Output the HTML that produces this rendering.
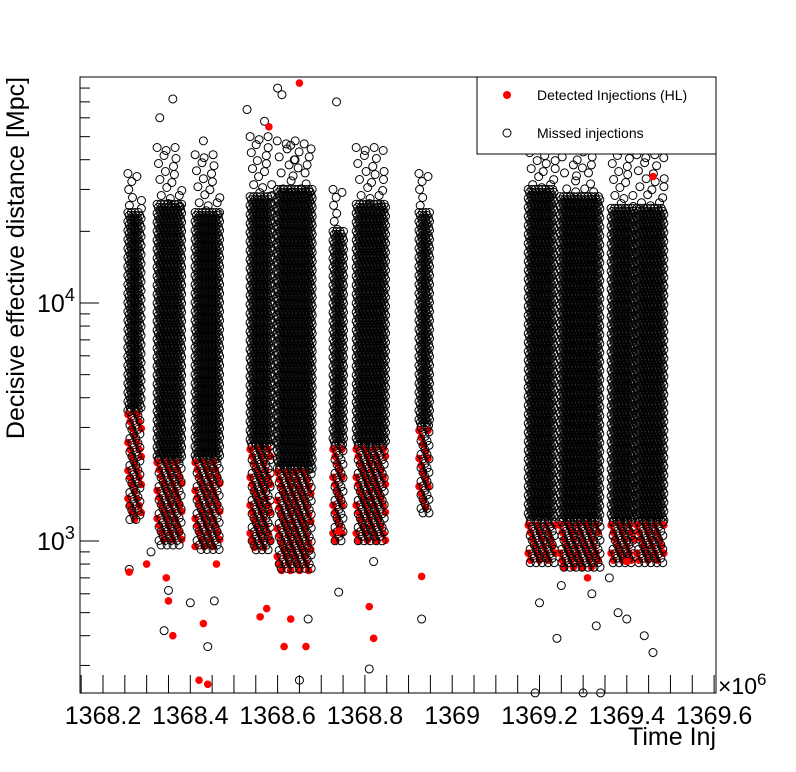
<!DOCTYPE html>
<html><head><meta charset="utf-8">
<style>
html,body{margin:0;padding:0;background:#fff;}
svg{display:block;font-family:"Liberation Sans",Arial,sans-serif;}
</style></head>
<body>
<svg id="chart" width="796" height="772" viewBox="0 0 796 772">
  <rect x="0" y="0" width="796" height="772" fill="#fff"/>
  <g id="marks"></g>
  <rect x="80" y="77" width="636" height="616" fill="none" stroke="#000" stroke-width="1"/>
  <g id="axes"></g>
  <text x="16" y="258" transform="rotate(-90 16 258)" text-anchor="middle" dominant-baseline="central" font-size="25">Decisive effective distance [Mpc]</text>
  <text x="716" y="745" text-anchor="end" font-size="25">Time Inj</text>
  <text x="718" y="694" font-size="23">×10<tspan dy="-9" font-size="17">6</tspan></text>
  <g>
    <rect x="477" y="77" width="239" height="77" fill="#fff" stroke="#000" stroke-width="1"/>
    <circle cx="507" cy="95" r="4" fill="#ff0000"/>
    <text x="537" y="100" font-size="14">Detected Injections (HL)</text>
    <circle cx="507" cy="133" r="4" fill="none" stroke="#000"/>
    <text x="537" y="138" font-size="14">Missed injections</text>
  </g>
</svg>
<script>
// ---- data ----
var xTicks = [1368.2, 1368.4, 1368.6, 1368.8, 1369, 1369.2, 1369.4, 1369.6];
var xTickLabels = ["1368.2","1368.4","1368.6","1368.8","1369","1369.2","1369.4","1369.6"];
var yMajor = [1000, 10000];
var colT0 = [1368.257,1368.324,1368.411,1368.537,1368.599,1368.727,1368.780,1368.924,1369.174,1369.247,1369.364,1369.423];
var colT1 = [1368.289,1368.381,1368.468,1368.587,1368.681,1368.752,1368.848,1368.949,1369.236,1369.339,1369.416,1369.487];
var bandLo = [1200,950,900,900,750,1000,1000,1300,800,750,800,800];
var coreLo = [3500,2200,2200,2500,2000,2500,2500,3000,1200,1200,1200,1200];
var bandHi = [24000,26000,24000,28000,30000,20000,26000,24000,30000,28000,25000,25000];
var tailHi = [35000,45000,42000,50000,48000,30000,45000,35000,50000,48000,45000,42000];
var missT = [1368.26,1368.31,1368.34,1368.35,1368.36,1368.33,1368.4,1368.43,1368.44,1368.455,1368.53,1368.57,1368.6,1368.61,1368.63,1368.64,1368.67,1368.735,1368.74,1368.81,1368.93,1369.19,1369.2,1369.24,1369.3,1369.33,1369.34,1369.38,1369.4,1369.44,1369.46,1368.65,1368.82,1369.32,1369.25,1369.36];
var missD = [760,900,420,620,72000,60000,550,48000,360,560,65000,58000,80000,75000,46000,40000,470,70000,610,290,470,230,550,390,230,440,230,500,470,400,340,260,820,600,650,700];
var detT = [1368.26,1368.30,1368.345,1368.36,1368.42,1368.43,1368.44,1368.56,1368.58,1368.615,1368.63,1368.665,1368.74,1368.82,1368.81,1368.93,1369.31,1369.4,1369.46,1368.575,1368.65,1368.46,1368.35];
var detD = [740,800,700,400,260,450,250,480,55000,360,470,360,1100,390,530,710,700,820,34000,520,84000,800,560];

function xS(t){ return 103 + (t - 1368.2) * 436.5; }
function yS(d){ return 303 - (Math.log10(d) - 4) * 238; }
var NS = "http://www.w3.org/2000/svg";
var marks = document.getElementById('marks');
var axes = document.getElementById('axes');
function mk(tag, attrs, parent){ var e=document.createElementNS(NS,tag); for(var k in attrs) e.setAttribute(k,attrs[k]); parent.appendChild(e); return e; }

for (var c=0;c<colT0.length;c++){
  var x0=xS(colT0[c]), x1=xS(colT1[c]);
  var g=mk('g',{},marks);
  
  
  var row=0;
  for (var y=yS(tailHi[c]); y<yS(bandHi[c]); y+=8, row++){
    var n=0;
    for (var x=x0+((row*5)%9)/9*(x1-x0)*0.5; x<=x1; x+=9+(row%3)*3, n++){
      mk('circle',{cx:x.toFixed(1),cy:(y+(n%2)*3).toFixed(1),r:4,fill:'none',stroke:'#000','stroke-width':1},g);
    }
  }
  row=0;
  for (var y=yS(bandHi[c]); y<=yS(coreLo[c]); y+=3, row++){
    var off=(row%3)*1.3;
    for (var x=x0+off; x<=x1; x+=3.5){
      mk('circle',{cx:x.toFixed(1),cy:y.toFixed(1),r:4,fill:'none',stroke:'#000','stroke-width':1},g);
    }
  }
  var gr=mk('g',{},marks);
  
  
  row=0;
  for (var y=yS(coreLo[c])+3; y<=yS(bandLo[c]); y+=7, row++){
    var off=(row%4)*2.2;
    for (var x=x0+off; x<=x1; x+=9){
      mk('circle',{cx:x.toFixed(1),cy:y.toFixed(1),r:3.8,fill:'#ff0000'},gr);
    }
  }
  var gb=mk('g',{},marks);
  
  
  row=0;
  for (var y=yS(coreLo[c]); y<=yS(bandLo[c]); y+=4.5, row++){
    var off=2+(row%3)*2;
    for (var x=x0+off; x<=x1; x+=6){
      mk('circle',{cx:x.toFixed(1),cy:y.toFixed(1),r:4,fill:'none',stroke:'#000','stroke-width':1},gb);
    }
  }
}
for (var i=0;i<missT.length;i++){
  var e=mk('circle',{cx:xS(missT[i]),cy:yS(missD[i]),r:4,fill:'none',stroke:'#000','stroke-width':1},marks);
  
  
}
for (var i=0;i<detT.length;i++){
  var e=mk('circle',{cx:xS(detT[i]),cy:yS(detD[i]),r:3.8,fill:'#ff0000'},marks);
  
  
}
for (var t=1368.15; t<=1369.6001; t+=0.05){
  var x=xS(t); if (x<80||x>716) continue;
  var l=mk('line',{x1:x,x2:x,y1:693,y2:675,stroke:'#000','stroke-width':1},axes);
  
  
}
for (var i=0;i<xTicks.length;i++){
  var tx=mk('text',{x:xS(xTicks[i]),y:724,'text-anchor':'middle','font-size':25},axes);
  tx.textContent=xTickLabels[i];
  
  
}
for (var dec=100; dec<=100000; dec*=10){
  for (var m=1;m<=9;m++){
    var d=dec*m, y=yS(d);
    if (y<77||y>693) continue;
    var len = (m===1)?19:10;
    var l=mk('line',{x1:80,x2:80+len,y1:y,y2:y,stroke:'#000','stroke-width':1},axes);
    
    
  }
}
for (var i=0;i<yMajor.length;i++){
  var tx=mk('text',{x:37,y:yS(yMajor[i])+9,'font-size':25},axes);
  tx.innerHTML='10<tspan dy="-11" font-size="18">'+Math.round(Math.log10(yMajor[i]))+'</tspan>';
  
  
}
</script>
</body></html>
